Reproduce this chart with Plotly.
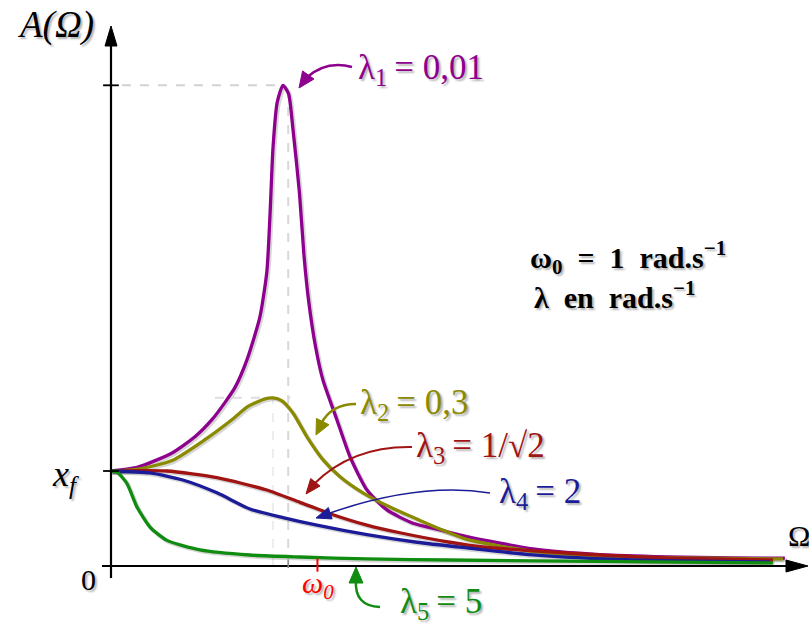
import plotly.graph_objects as go

W, H = 809, 624

# ---------------- data ----------------
# Omega in units where the resonance peak sits near 1, amplitude in units of x_f
omega_1 = [0, 0.154, 0.349, 0.48, 0.577, 0.651, 0.709, 0.777, 0.851, 0.891, 0.909, 0.926, 0.95, 0.983,
           1.015, 1.04, 1.077, 1.103, 1.129, 1.17, 1.211, 1.291, 1.366, 1.463, 1.577, 1.726,
           1.88, 2.034, 2.411, 2.794, 3.177, 3.554, 3.851]
amp_1 = [1.0, 1.04, 1.19, 1.36, 1.54, 1.72, 1.88, 2.17, 2.62, 3.1, 3.7, 4.4, 4.88, 5.06,
         4.97, 4.6, 3.93, 3.27, 2.8, 2.3, 1.96, 1.54, 1.15, 0.8, 0.59, 0.45,
         0.38, 0.31, 0.18, 0.12, 0.097, 0.086, 0.082]

omega_2 = [0, 0.154, 0.349, 0.537, 0.691, 0.783, 0.88, 0.926, 0.975, 1.04, 1.12, 1.211, 1.309,
           1.44, 1.594, 1.766, 1.88, 2.034, 2.411, 2.983, 3.84]
amp_2 = [1.0, 1.02, 1.11, 1.33, 1.54, 1.68, 1.76, 1.77, 1.74, 1.61, 1.36, 1.12, 0.94,
         0.77, 0.62, 0.48, 0.39, 0.28, 0.155, 0.095, 0.074]

omega_3 = [0, 0.32, 0.606, 0.891, 1.08, 1.269, 1.463, 1.651, 1.937, 2.126, 2.606, 3.177, 3.783]
amp_3 = [1.0, 1.0, 0.93, 0.80, 0.67, 0.54, 0.43, 0.35, 0.25, 0.20, 0.137, 0.084, 0.063]

omega_4 = [0, 0.223, 0.411, 0.606, 0.794, 0.983, 1.177, 1.463, 1.749, 2.034, 2.411, 2.983, 3.766]
amp_4 = [1.0, 0.98, 0.905, 0.77, 0.6, 0.51, 0.43, 0.33, 0.25, 0.19, 0.116, 0.063, 0.042]

omega_5 = [0, 0.034, 0.091, 0.149, 0.223, 0.32, 0.509, 0.794, 1.08, 1.463, 1.937, 3.783]
amp_5 = [1.0, 0.99, 0.87, 0.62, 0.41, 0.27, 0.17, 0.116, 0.095, 0.074, 0.063, 0.032]

series_labels = ["λ<sub>1</sub>\u2009= 0,01", "λ<sub>2</sub>\u2009= 0,3", "λ<sub>3</sub>\u2009= 1/√2",
                 "λ<sub>4</sub>\u2009= 2", "λ<sub>5</sub>\u2009= 5"]
series_colors = ["#8E008E", "#8A8A00", "#A01414", "#1C1C98", "#108C10"]

omega0_pos = 1.18     # where the red ω0 tick is drawn on the Ω axis
xf_level = 1.0        # x_f tick on the amplitude axis

X_RANGE = [-0.634, 3.989]
Y_RANGE = [-0.6105, 5.958]

SERIF = "Liberation Serif, Times New Roman, serif"
SHADOW = "2px 2px 2px rgba(0,0,0,0.30)"

fig = go.Figure()

series = [(omega_1, amp_1), (omega_2, amp_2), (omega_3, amp_3), (omega_4, amp_4), (omega_5, amp_5)]
dx = 1.5 * (X_RANGE[1] - X_RANGE[0]) / W
dy = 1.5 * (Y_RANGE[1] - Y_RANGE[0]) / H
# soft shadows
for (om, am) in series:
    fig.add_trace(go.Scatter(x=[v + dx for v in om], y=[v - dy for v in am], mode="lines",
                             line=dict(color="rgba(0,0,0,0.16)", width=4, shape="spline", smoothing=0.6),
                             hoverinfo="skip", showlegend=False))
for (om, am), col, lab in zip(series, series_colors, series_labels):
    fig.add_trace(go.Scatter(x=om, y=am, mode="lines", name=lab,
                             line=dict(color=col, width=3.3, shape="spline", smoothing=0.6),
                             showlegend=False))

# ---------------- decorations ----------------
def P(x, y):
    return x / W, 1 - y / H

shapes = []

def line_px(x0, y0, x1, y1, color, width):
    a, b = P(x0, y0)
    c, d = P(x1, y1)
    shapes.append(dict(type="line", xref="paper", yref="paper", x0=a, y0=b, x1=c, y1=d,
                       line=dict(color=color, width=width)))

def curve_px(p0, c, p1, color, width):
    a0, b0 = P(*p0)
    ac, bc = P(*c)
    a1, b1 = P(*p1)
    shapes.append(dict(type="path", xref="paper", yref="paper",
                       path=f"M {a0},{b0} Q {ac},{bc} {a1},{b1}",
                       line=dict(color=color, width=width)))

def head_px(tip, frm, L, w, color):
    tx, ty = tip
    fx, fy = frm
    ddx, ddy = tx - fx, ty - fy
    n = (ddx ** 2 + ddy ** 2) ** 0.5
    ux, uy = ddx / n, ddy / n
    bx, by = tx - ux * L, ty - uy * L
    nx, ny = -uy, ux
    pts = [(tx, ty), (bx + nx * w, by + ny * w), (bx - nx * w, by - ny * w)]
    pp = [P(*p) for p in pts]
    s = f"M {pp[0][0]},{pp[0][1]} L {pp[1][0]},{pp[1][1]} L {pp[2][0]},{pp[2][1]} Z"
    shapes.append(dict(type="path", xref="paper", yref="paper", path=s,
                       fillcolor=color, line=dict(color=color, width=1)))

# dashed guides from the peaks (data coordinates)
i_max = amp_1.index(max(amp_1))
peak_x, peak_y = omega_1[i_max] + 0.03, max(amp_1)
i2 = amp_2.index(max(amp_2))
shapes.append(dict(type="line", xref="x", yref="y", x0=-0.04, x1=omega_1[i_max], y0=peak_y, y1=peak_y,
                   line=dict(color="#D2D2D2", width=2, dash="dash"), layer="below"))
shapes.append(dict(type="line", xref="x", yref="y", x0=peak_x, x1=peak_x, y0=0, y1=peak_y - 0.08,
                   line=dict(color="#D8D8D8", width=2, dash="dash"), layer="below"))
shapes.append(dict(type="line", xref="x", yref="y", x0=0.594, x1=omega_2[i2] + 0.1, y0=amp_2[i2], y1=amp_2[i2],
                   line=dict(color="#DDDDDD", width=2, dash="dash"), layer="below"))
shapes.append(dict(type="line", xref="x", yref="y", x0=omega_2[i2], x1=omega_2[i2], y0=0, y1=amp_2[i2],
                   line=dict(color="#E8E8E8", width=1.5, dash="dash"), layer="below"))

# axes
line_px(111, 578, 111, 40, "black", 2.2)
line_px(102, 566, 794, 566, "black", 2.2)
head_px((111, 26), (111, 60), 20, 6, "black")
head_px((808, 566), (770, 566), 22, 6, "black")
# axis ticks (data coordinates)
for yv in (xf_level, peak_y):
    shapes.append(dict(type="line", xref="x", yref="y", x0=-0.045, x1=0.045, y0=yv, y1=yv,
                       line=dict(color="black", width=1.8)))
shapes.append(dict(type="line", xref="x", yref="y", x0=peak_x, x1=peak_x, y0=-0.02, y1=0.06,
                   line=dict(color="#888888", width=1.5)))
shapes.append(dict(type="line", xref="x", yref="y", x0=omega0_pos, x1=omega0_pos, y0=-0.06, y1=0.08,
                   line=dict(color="#FF0000", width=2)))

# curved pointer arrows
curve_px((352, 67), (326, 60), (306, 78), series_colors[0], 2.5)
head_px((299, 88), (309, 74), 16, 7, series_colors[0])
curve_px((356, 404), (331, 404), (321, 424), series_colors[1], 2.5)
head_px((316, 435), (324, 419), 15, 7, series_colors[1])
curve_px((412, 447), (352, 446), (314, 484), series_colors[2], 2)
head_px((306, 494), (318, 479), 15, 6, series_colors[2])
curve_px((490, 493), (420, 482), (330, 513), series_colors[3], 1.5)
head_px((316, 518), (334, 512), 15, 6, series_colors[3])
curve_px((380, 607), (354, 606), (356, 580), series_colors[4], 2.5)
head_px((356, 567), (356, 584), 16, 7, series_colors[4])

fig.update_layout(shapes=shapes)

# ---------------- text ----------------
def txt(x, y, text, size, color="black", anchor="left", italic=False, bold=False):
    fig.add_annotation(xref="paper", yref="paper", x=x / W, y=1 - y / H, text=text,
                       showarrow=False, xanchor=anchor, yanchor="middle",
                       font=dict(family=SERIF, size=size, color=color,
                                 style="italic" if italic else "normal",
                                 weight="bold" if bold else "normal", shadow=SHADOW))

txt(15, 25, "A(Ω)", 37, italic=True)
txt(356, 69, series_labels[0], 35, series_colors[0])
txt(528, 257, "ω<sub>0</sub>  =  1  rad.s<sup>−1</sup>", 30, bold=True)
txt(532, 295, "λ  en  rad.s<sup>−1</sup>", 30, bold=True)
txt(358, 404, series_labels[1], 35, series_colors[1])
txt(414, 447, series_labels[2], 35, series_colors[2])
txt(497, 493, series_labels[3], 35, series_colors[3])
txt(398, 603, series_labels[4], 35, series_colors[4])
txt(50, 477, "x<sub>f</sub>", 36, italic=True)
txt(79, 579, "0", 30)
txt(300, 585, "ω<sub>0</sub>", 30, "#FF0000", italic=True)
txt(786, 535, "Ω", 30)

fig.update_layout(
    width=W, height=H,
    margin=dict(l=0, r=0, t=0, b=0),
    paper_bgcolor="white", plot_bgcolor="white",
    xaxis=dict(range=X_RANGE, visible=False, fixedrange=True),
    yaxis=dict(range=Y_RANGE, visible=False, fixedrange=True),
    showlegend=False,
)

fig.write_html("out.html", config={"displayModeBar": False},
               post_script="document.body.style.margin='0px';document.body.style.overflow='hidden';")
